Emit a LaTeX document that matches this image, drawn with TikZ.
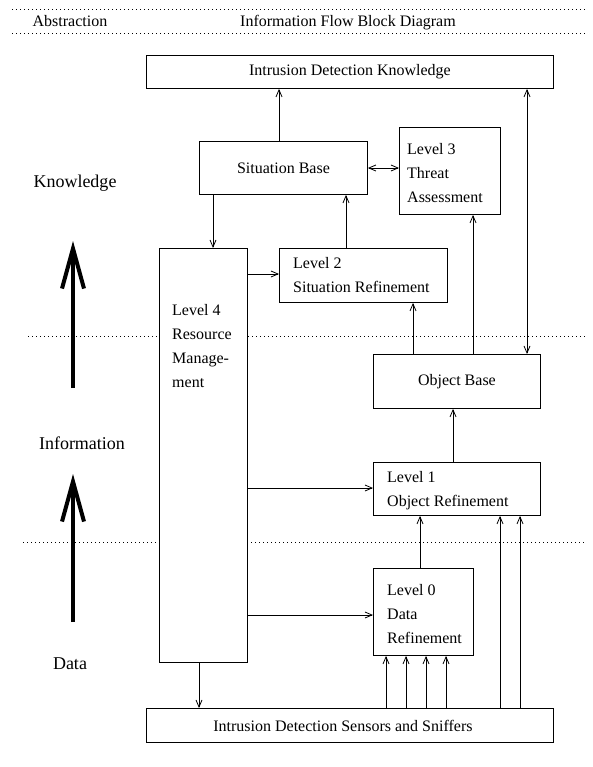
\documentclass[tikz,border=0pt]{standalone}
\usepackage{fontspec}
\setmainfont{Liberation Serif}
\usetikzlibrary{arrows.meta}
\begin{document}
\begin{tikzpicture}[x=1pt,y=-1pt,
  box/.style={draw, line width=0.9pt, fill=white, inner sep=0pt, anchor=north west,
              font=\fontsize{16}{24}\selectfont},
  lbl/.style={font=\fontsize{16}{24}\selectfont, inner sep=0pt},
  biglbl/.style={font=\fontsize{18}{24}\selectfont, inner sep=0pt, anchor=base},
  lline/.style={font=\fontsize{16}{24}\selectfont, inner sep=0pt, anchor=base west},
  conn/.style={line width=0.8pt, -{Straight Barb[length=7pt,width=6pt,line width=0.8pt]}},
  dconn/.style={line width=0.8pt, {Straight Barb[length=7pt,width=6pt,line width=0.8pt]}-{Straight Barb[length=7pt,width=6pt,line width=0.8pt]}},
  dots/.style={line width=0.7pt, dash pattern=on 1pt off 3pt},
  big/.style={line width=4pt, -{Straight Barb[length=40pt,width=22pt,line width=4pt]}}]
\useasboundingbox (0,0) rectangle (593,767);

% dotted separators
\coordinate (d1a) at (12,9);   \coordinate (d1b) at (587,9);
\coordinate (d2a) at (12,33);  \coordinate (d2b) at (587,33);
\coordinate (d3a) at (28,336); \coordinate (d3b) at (587,336);
\coordinate (d4a) at (23,542); \coordinate (d4b) at (587,542);
\draw[dots] (d1a) -- (d1b);
\draw[dots] (d2a) -- (d2b);
\draw[dots] (d3a) -- (d3b);
\draw[dots] (d4a) -- (d4b);

% header
\node[lbl, anchor=base] (habs) at (70,27) {Abstraction};
\node[lbl, anchor=base] (hflow) at (348,27) {Information Flow Block Diagram};

% left labels and big arrows
\node[biglbl] (kn) at (75,188) {Knowledge};
\node[biglbl] (inf) at (82,449) {Information};
\node[biglbl] (dat) at (70,669) {Data};
\coordinate (ua1) at (73,388); \coordinate (ua2) at (73,241);
\coordinate (la1) at (73,622); \coordinate (la2) at (73,474);
\draw[big] (ua1) -- (ua2);
\draw[big] (la1) -- (la2);

% boxes
\node[box, minimum width=407pt, minimum height=33pt] (idk) at (146,55) {Intrusion Detection Knowledge};
\node[box, minimum width=168pt, minimum height=53pt] (sb) at (199,141) {Situation Base};
\node[box, minimum width=101pt, minimum height=87pt] (l3) at (399,127) {};
\node[box, minimum width=168pt, minimum height=54pt] (l2) at (279,248) {};
\node[box, minimum width=88pt, minimum height=414pt] (l4) at (159,248) {};
\node[box, minimum width=167pt, minimum height=54pt] (ob) at (373,354) {Object Base};
\node[box, minimum width=167pt, minimum height=53pt] (l1) at (373,462) {};
\node[box, minimum width=100pt, minimum height=87pt] (l0) at (373,568) {};
\node[box, minimum width=407pt, minimum height=34pt] (sen) at (146,708) {\hspace*{-14pt}Intrusion Detection Sensors and Sniffers};

% multi-line texts
\node[lline] (l3a) at (407,155) {Level 3};
\node[lline] (l3b) at (407,179) {Threat};
\node[lline] (l3c) at (407,203) {Assessment};
\node[lline] (l2a) at (293,268) {Level 2};
\node[lline] (l2b) at (293,292) {Situation Refinement};
\node[lline] (l4a) at (172,315) {Level 4};
\node[lline] (l4b) at (172,339) {Resource};
\node[lline] (l4c) at (172,363) {Manage-};
\node[lline] (l4d) at (172,387) {ment};
\node[lline] (l1a) at (387,482) {Level 1};
\node[lline] (l1b) at (387,506) {Object Refinement};
\node[lline] (l0a) at (387,595) {Level 0};
\node[lline] (l0b) at (387,619) {Data};
\node[lline] (l0c) at (387,643) {Refinement};

% connector positions
\coordinate (xa) at (279,0);
\coordinate (xb) at (527,0);
\coordinate (xc) at (213,0);
\coordinate (xd) at (346,0);
\coordinate (xe) at (413,0);
\coordinate (xf) at (473,0);
\coordinate (xg) at (453,0);
\coordinate (xh) at (420,0);
\coordinate (xi) at (199,0);
\coordinate (ya) at (0,168);
\coordinate (yb) at (0,274);
\coordinate (yc) at (0,488);
\coordinate (yd) at (0,615);

% connectors
\draw[conn] (sb.north -| xa) -- (idk.south -| xa);
\draw[dconn] (ob.north -| xb) -- (idk.south -| xb);
\draw[dconn] (sb.east |- ya) -- (l3.west |- ya);
\draw[conn] (sb.south -| xc) -- (l4.north -| xc);
\draw[conn] (l4.east |- yb) -- (l2.west |- yb);
\draw[conn] (l2.north -| xd) -- (sb.south -| xd);
\draw[conn] (ob.north -| xe) -- (l2.south -| xe);
\draw[conn] (ob.north -| xf) -- (l3.south -| xf);
\draw[conn] (l1.north -| xg) -- (ob.south -| xg);
\draw[conn] (l4.east |- yc) -- (l1.west |- yc);
\draw[conn] (l0.north -| xh) -- (l1.south -| xh);
\draw[conn] (l4.east |- yd) -- (l0.west |- yd);
\draw[conn] (l4.south -| xi) -- (sen.north -| xi);
\foreach \x in {386,406,426,446} {
  \coordinate (s\x) at (\x,0);
  \draw[conn] (sen.north -| s\x) -- (l0.south -| s\x);
}
\foreach \x in {500,520} {
  \coordinate (s\x) at (\x,0);
  \draw[conn] (sen.north -| s\x) -- (l1.south -| s\x);
}
\end{tikzpicture}
\end{document}
